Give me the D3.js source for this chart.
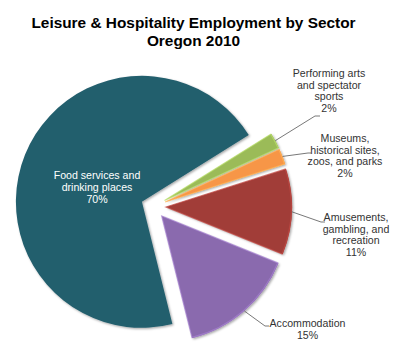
<!DOCTYPE html>
<html>
<head>
<meta charset="utf-8">
<script src="https://cdn.jsdelivr.net/npm/d3@7"></script>
<style>
  html, body { margin: 0; padding: 0; background: #fff; }
  svg { display: block; font-family: Arial, "Liberation Sans", sans-serif; }
</style>
</head>
<body>
<svg id="chart" width="400" height="353"></svg>
<script>
// ---- data ----
const titleLines = ["Leisure & Hospitality Employment by Sector", "Oregon 2010"];
const categories = [
  "Food services and drinking places",
  "Performing arts and spectator sports",
  "Museums, historical sites, zoos, and parks",
  "Amusements, gambling, and recreation",
  "Accommodation"
];
const values = [70, 2, 2, 11, 15];
const categoryLines = [
  ["Food services and", "drinking places"],
  ["Performing arts", "and spectator", "sports"],
  ["Museums,", "historical sites,", "zoos, and parks"],
  ["Amusements,", "gambling, and", "recreation"],
  ["Accommodation"]
];
const colors = ["#245e6d", "#9bbb59", "#f79646", "#a13c38", "#8a6bae"];

// ---- layout (not data) ----
const W = 400, H = 353;
const cx = 153.5, cy = 206.5, R = 126, explode = 12.5;
const startDeg = 166;
const labelPlace = [
  {x: 97, y: 178.5, inside: true},
  {x: 329, y: 77, lead: [[315, 116], [320, 116]]},
  {x: 345, y: 142, lead: [[308, 153], [311, 153]]},
  {x: 356, y: 221, lead: [[321, 222], [325, 222]]},
  {x: 307.5, y: 327, lead: [[265, 326], [269, 326]]}
];
const lineH = 11.7;

const svg = d3.select("#chart");
const defs = svg.append("defs");
const f = defs.append("filter").attr("id", "sh").attr("x", "-10%").attr("y", "-10%").attr("width", "130%").attr("height", "130%");
f.append("feDropShadow").attr("dx", 1.2).attr("dy", 1.2).attr("stdDeviation", 1.2)
  .attr("flood-color", "#000").attr("flood-opacity", 0.35);

// title
svg.append("g").selectAll("text").data(titleLines).join("text")
  .attr("x", 193.5).attr("y", (d, i) => 28.3 + i * 17.4)
  .attr("text-anchor", "middle")
  .attr("font-weight", "bold").attr("font-size", 15.4).attr("fill", "#000")
  .text(d => d);

const data = categories.map((c, i) => ({c, v: values[i], i}));
const pie = d3.pie().sort(null).value(d => d.v)
  .startAngle(startDeg * Math.PI / 180)
  .endAngle(startDeg * Math.PI / 180 + 2 * Math.PI);
const arcs = pie(data);
const arc = d3.arc().innerRadius(0).outerRadius(R);
const fmt = d => d3.format(".0f")(d) + "%";

function offset(a) {
  const m = (a.startAngle + a.endAngle) / 2;
  return [explode * Math.sin(m), -explode * Math.cos(m)];
}

const g = svg.append("g").attr("transform", `translate(${cx},${cy})`);
const slices = g.selectAll("g.slice").data(arcs).join("g")
  .attr("class", "slice")
  .attr("transform", d => { const o = offset(d); return `translate(${o[0]},${o[1]})`; });

slices.append("path")
  .attr("d", arc)
  .attr("fill", d => colors[d.data.i])
  .attr("filter", "url(#sh)");
slices.append("path")
  .attr("d", d3.arc().innerRadius(0).outerRadius(R - 0.8))
  .attr("fill", "none")
  .attr("stroke", d => d3.color(colors[d.data.i]).brighter(0.5))
  .attr("stroke-width", 1.2)
  .attr("stroke-opacity", d => d.data.i === 0 ? 0 : 0.7);

// leader lines
const leadG = svg.append("g");
arcs.forEach((a, k) => {
  const p = labelPlace[k];
  if (p.inside) return;
  const o = offset(a);
  const m = (a.startAngle + a.endAngle) / 2;
  const sx = cx + o[0] + R * Math.sin(m);
  const sy = cy + o[1] - R * Math.cos(m);
  const pts = [[sx, sy]].concat(p.lead);
  leadG.append("path")
    .attr("d", d3.line()(pts))
    .attr("fill", "none").attr("stroke", "#555").attr("stroke-width", 0.8);
});

// labels
const labG = svg.append("g");
arcs.forEach((a, k) => {
  const p = labelPlace[k];
  const lines = categoryLines[k].concat([fmt(a.data.v)]);
  const lh = p.inside ? 12 : lineH;
  labG.append("text")
    .attr("text-anchor", "middle")
    .attr("font-size", 10.6)
    .attr("fill", p.inside ? "#fff" : "#333")
    .selectAll("tspan").data(lines).join("tspan")
    .attr("x", p.x).attr("y", (d, i) => p.y + i * lh)
    .text(d => d);
});
</script>
</body>
</html>
